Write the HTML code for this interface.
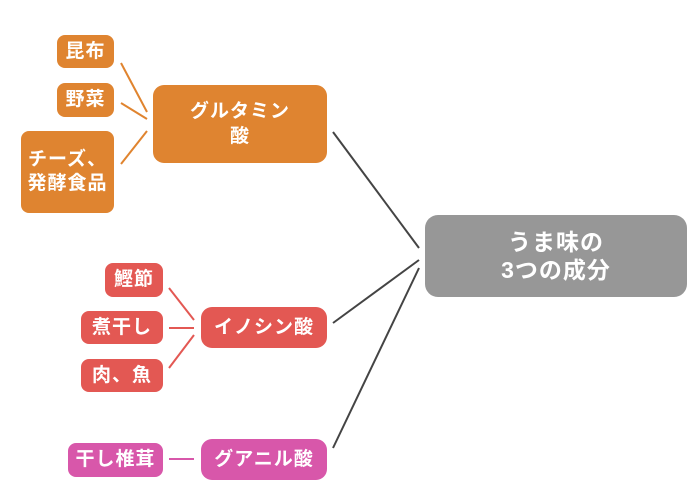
<!DOCTYPE html>
<html>
<head>
<meta charset="utf-8">
<style>
html,body{margin:0;padding:0;background:#fff;}
body{width:695px;height:483px;position:relative;overflow:hidden;font-family:"Liberation Sans","Noto Sans CJK JP",sans-serif;}
.b{position:absolute;display:flex;align-items:center;justify-content:center;text-align:center;color:#fff;font-weight:bold;box-sizing:border-box;}
.s{font-size:19px;letter-spacing:1px;line-height:24px;border-radius:8px;}
.o{background:#df8430;}
.r{background:#e35853;}
.p{background:#d857aa;}
.g{background:#979797;border-radius:13px;font-size:23px;line-height:28px;letter-spacing:1px;}
.m{font-size:19px;letter-spacing:1px;line-height:25px;border-radius:11px;}
svg{position:absolute;left:0;top:0;}
</style>
</head>
<body>
<svg width="695" height="483" viewBox="0 0 695 483">
  <g stroke="#e0842f" stroke-width="2" fill="none">
    <line x1="121" y1="63" x2="147" y2="112"/>
    <line x1="121" y1="103" x2="147" y2="119"/>
    <line x1="121" y1="164" x2="147" y2="131"/>
  </g>
  <g stroke="#e35853" stroke-width="2" fill="none">
    <line x1="169" y1="288" x2="194" y2="320"/>
    <line x1="169" y1="328" x2="194" y2="328"/>
    <line x1="169" y1="368" x2="194" y2="335"/>
  </g>
  <g stroke="#d857aa" stroke-width="2" fill="none">
    <line x1="169" y1="459" x2="194" y2="459"/>
  </g>
  <g stroke="#444" stroke-width="2" fill="none">
    <line x1="333" y1="132" x2="419" y2="248"/>
    <line x1="333" y1="323" x2="419" y2="260"/>
    <line x1="333" y1="448" x2="419" y2="268"/>
  </g>
</svg>

<div class="b s o" style="left:57px;top:35px;width:57px;height:33px;">昆布</div>
<div class="b s o" style="left:57px;top:83px;width:57px;height:34px;">野菜</div>
<div class="b s o" style="left:21px;top:131px;width:93px;height:82px;">チーズ、<br>発酵食品</div>
<div class="b m o" style="left:153px;top:85px;width:174px;height:78px;">グルタミン<br>酸</div>

<div class="b s r" style="left:105px;top:263px;width:58px;height:34px;">鰹節</div>
<div class="b s r" style="left:81px;top:311px;width:82px;height:33px;">煮干し</div>
<div class="b s r" style="left:81px;top:359px;width:82px;height:33px;">肉、魚</div>
<div class="b m r" style="left:201px;top:307px;width:126px;height:41px;">イノシン酸</div>

<div class="b s p" style="left:68px;top:443px;width:95px;height:34px;">干し椎茸</div>
<div class="b m p" style="left:201px;top:439px;width:126px;height:41px;">グアニル酸</div>

<div class="b g" style="left:425px;top:215px;width:262px;height:82px;">うま味の<br>3つの成分</div>
</body>
</html>
